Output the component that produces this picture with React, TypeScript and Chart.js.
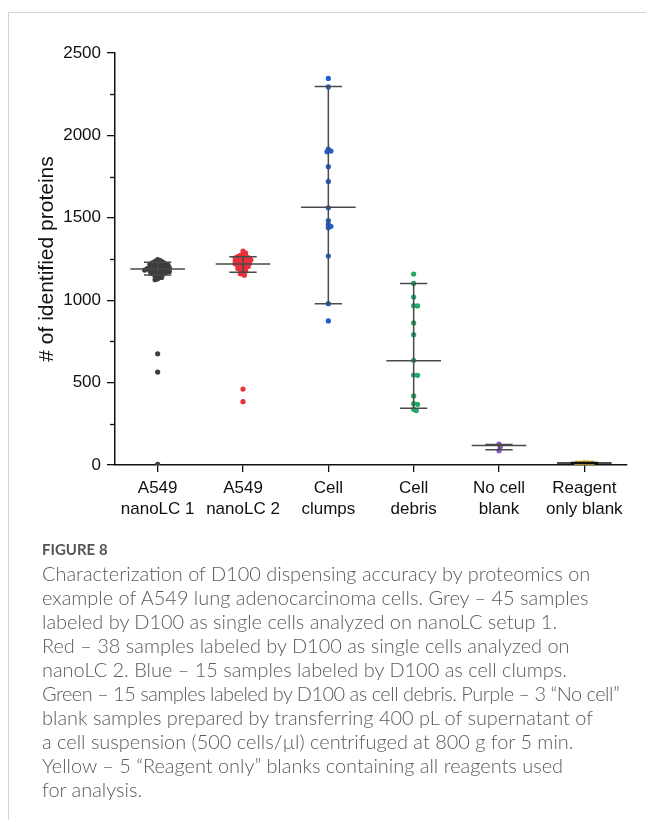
import React, { useEffect, useRef } from "react";
import { Chart, registerables } from "chart.js";

Chart.register(...registerables);

// ---------- data ----------
const categories: string[][] = [
  ["A549", "nanoLC 1"],
  ["A549", "nanoLC 2"],
  ["Cell", "clumps"],
  ["Cell", "debris"],
  ["No cell", "blank"],
  ["Reagent", "only blank"],
];

const greyValues = [
  1246, 1240, 1236, 1231, 1228, 1227, 1223, 1221, 1219, 1218, 1214, 1212, 1211, 1207, 1205,
  1203, 1202, 1198, 1197, 1196, 1193, 1192, 1190, 1188, 1187, 1184, 1183, 1180, 1178, 1176,
  1174, 1171, 1169, 1166, 1163, 1161, 1158, 1152, 1146, 1138, 1130, 1124, 675, 564, 4,
];
const redValues = [
  1298, 1286, 1280, 1272, 1268, 1265, 1262, 1259, 1257, 1254, 1251, 1248, 1246, 1243, 1240,
  1238, 1235, 1232, 1229, 1226, 1224, 1221, 1218, 1215, 1212, 1209, 1205, 1201, 1197, 1193,
  1188, 1183, 1176, 1168, 1160, 1152, 461, 384,
];
const blueValues = [
  2346, 2294, 1917, 1905, 1901, 1810, 1721, 1561, 1483, 1460, 1448, 1440, 1268, 979, 874,
];
const greenValues = [
  1159, 1102, 1019, 967, 965, 862, 791, 635, 546, 544, 419, 372, 368, 338, 330,
];
const purpleValues = [127, 111, 87];
const yellowValues = [13, 12, 14, 11, 12];

const centerValues = [1189, 1220, 1564, 633, 118, 12];
const lowerValues = [1153, 1169, 979, 344, 92, 9];
const upperValues = [1230, 1264, 2296, 1102, 124, 15];

const yTicks = [0, 500, 1000, 1500, 2000, 2500];
const yMinorTicks = [250, 750, 1250, 1750, 2250];

const groupValues = [greyValues, redValues, blueValues, greenValues, purpleValues, yellowValues];
const groupColors = ["#3d3d3d", "#e8313b", "#1c5fd4", "#22a866", "#8a58c4", "#d9ad2e"];

// ---------- helpers ----------
// beeswarm-style horizontal offsets (in category units) so dots don't pile up
function swarm(values: number[]): number[] {
  const pxPerUnit = 412 / 2500; // approx vertical scale used only for spacing
  const pxPerCat = 85.3;
  const d = 2.7;
  const step = 1.3;
  const order = values.map((v, i) => i).sort((a, b) => values[b] - values[a]);
  const placed: { x: number; y: number }[] = [];
  const out = new Array(values.length).fill(0);
  for (const idx of order) {
    const y = values[idx] * pxPerUnit;
    let k = 0;
    let x = 0;
    while (true) {
      const s = Math.ceil(k / 2) * step * (k % 2 === 1 ? 1 : -1);
      x = s;
      const hit = placed.some((p) => (p.x - x) ** 2 + (p.y - y) ** 2 < d * d);
      if (!hit) break;
      k++;
      if (k > 60) break;
    }
    placed.push({ x, y });
    out[idx] = x / pxPerCat;
  }
  return out;
}

const overlayPlugin = {
  id: "overlay",
  afterDatasetsDraw(chart: any) {
    const { ctx } = chart;
    const x = chart.scales.x;
    const y = chart.scales.y;
    ctx.save();
    // minor y ticks
    ctx.strokeStyle = "#111";
    ctx.lineWidth = 1.3;
    const ax = chart.chartArea.left;
    yMinorTicks.forEach((v) => {
      const py = Math.round(y.getPixelForValue(v)) + 0.5;
      ctx.beginPath();
      ctx.moveTo(ax - 5, py);
      ctx.lineTo(ax, py);
      ctx.stroke();
    });
    // error bars
    categories.forEach((_, i) => {
      const cx = x.getPixelForValue(i);
      const wMean = x.getPixelForValue(i + 0.32) - cx;
      const wCap = x.getPixelForValue(i + 0.16) - cx;
      const pc = y.getPixelForValue(centerValues[i]);
      const pl = y.getPixelForValue(lowerValues[i]);
      const pu = y.getPixelForValue(upperValues[i]);
      ctx.strokeStyle = i === 5 ? "#111" : "#4a4a4a";
      ctx.lineWidth = 1.5;
      ctx.beginPath();
      ctx.moveTo(cx, pu);
      ctx.lineTo(cx, pl);
      ctx.moveTo(cx - wCap, pu);
      ctx.lineTo(cx + wCap, pu);
      ctx.moveTo(cx - wCap, pl);
      ctx.lineTo(cx + wCap, pl);
      ctx.moveTo(cx - wMean, pc);
      ctx.lineTo(cx + wMean, pc);
      ctx.stroke();
    });
    ctx.restore();
  },
};

const FAMILY = "Arial, 'Liberation Sans', Helvetica, sans-serif";

function ScatterChart() {
  const ref = useRef<HTMLCanvasElement | null>(null);
  useEffect(() => {
    if (!ref.current) return;
    const datasets = groupValues.map((vals, gi) => {
      const off = swarm(vals);
      return {
        label: categories[gi].join(" "),
        data: vals.map((v, j) => ({ x: gi + off[j], y: v })),
        backgroundColor: groupColors[gi],
        borderWidth: 0,
        pointRadius: 2.6,
        pointHoverRadius: 2.6,
      };
    });
    const font = { family: FAMILY, size: 17 };
    const chart = new Chart(ref.current, {
      type: "scatter",
      data: { datasets },
      plugins: [overlayPlugin],
      options: {
        animation: false,
        responsive: false,
        maintainAspectRatio: false,
        layout: { padding: { top: 40, right: 19, bottom: 0, left: 0 } },
        plugins: { legend: { display: false }, tooltip: { enabled: false } },
        scales: {
          x: {
            type: "linear",
            min: -0.5,
            max: 5.5,
            afterBuildTicks: (scale: any) => {
              scale.ticks = categories.map((_, i) => ({ value: i }));
            },
            afterFit: (scale: any) => {
              scale.height = 78;
            },
            ticks: {
              color: "#111",
              font: { ...font, lineHeight: 1.24 },
              padding: 6,
              maxRotation: 0,
              autoSkip: false,
              callback: (v: any) => categories[Math.round(Number(v))] || "",
            },
            grid: {
              display: true,
              drawOnChartArea: false,
              drawTicks: true,
              tickLength: 7,
              color: "#111",
              lineWidth: 1.3,
            },
            border: { display: true, color: "#111", width: 1.5 },
          },
          y: {
            min: 0,
            max: 2500,
            afterBuildTicks: (scale: any) => {
              scale.ticks = yTicks.map((v) => ({ value: v }));
            },
            afterFit: (scale: any) => {
              scale.width = 106;
            },
            ticks: {
              color: "#111",
              font,
              padding: 6,
              callback: (v: any) => String(v),
            },
            grid: {
              display: true,
              drawOnChartArea: false,
              drawTicks: true,
              tickLength: 8,
              color: "#111",
              lineWidth: 1.3,
            },
            border: { display: true, color: "#111", width: 1.5 },
            title: {
              display: true,
              text: "# of identified proteins",
              color: "#111",
              font: { family: FAMILY, size: 21 },
              padding: { top: 26, bottom: 0 },
            },
          },
        },
      },
    });
    return () => chart.destroy();
  }, []);
  return (
    <canvas
      ref={ref}
      width={637}
      height={530}
      style={{ position: "absolute", left: 0, top: 0, width: 637, height: 530 }}
    />
  );
}

const captionLines = [
  "Characterization of D100 dispensing accuracy by proteomics on",
  "example of A549 lung adenocarcinoma cells. Grey – 45 samples",
  "labeled by D100 as single cells analyzed on nanoLC setup 1.",
  "Red – 38 samples labeled by D100 as single cells analyzed on",
  "nanoLC 2. Blue – 15 samples labeled by D100 as cell clumps.",
  "Green – 15 samples labeled by D100 as cell debris. Purple – 3 “No cell”",
  "blank samples prepared by transferring 400 pL of supernatant of",
  "a cell suspension (500 cells/µl) centrifuged at 800 g for 5 min.",
  "Yellow – 5 “Reagent only” blanks containing all reagents used",
  "for analysis.",
];

export default function App() {
  return (
    <div
      style={{
        position: "absolute",
        left: 8,
        top: 12,
        width: 638,
        height: 808,
        boxSizing: "border-box",
        borderTop: "1px solid #d4d4d4",
        borderLeft: "1px solid #d4d4d4",
        background: "#fff",
        overflow: "hidden",
      }}
    >
      <ScatterChart />
      <div
        style={{
          position: "absolute",
          left: 33,
          top: 527,
          fontFamily: "Lato, 'Open Sans', sans-serif",
          color: "#5a5a5a",
        }}
      >
        <div
          style={{
            fontSize: 15,
            fontWeight: 700,
            lineHeight: "18px",
            marginBottom: 3,
            color: "#555",
          }}
        >
          FIGURE 8
        </div>
        {captionLines.map((l, i) => (
          <div
            key={i}
            style={{
              fontSize: 19.95,
              fontWeight: 300,
              lineHeight: "24px",
              whiteSpace: "nowrap",
              letterSpacing: i === 5 ? -0.5 : 0,
            }}
          >
            {l}
          </div>
        ))}
      </div>
    </div>
  );
}
